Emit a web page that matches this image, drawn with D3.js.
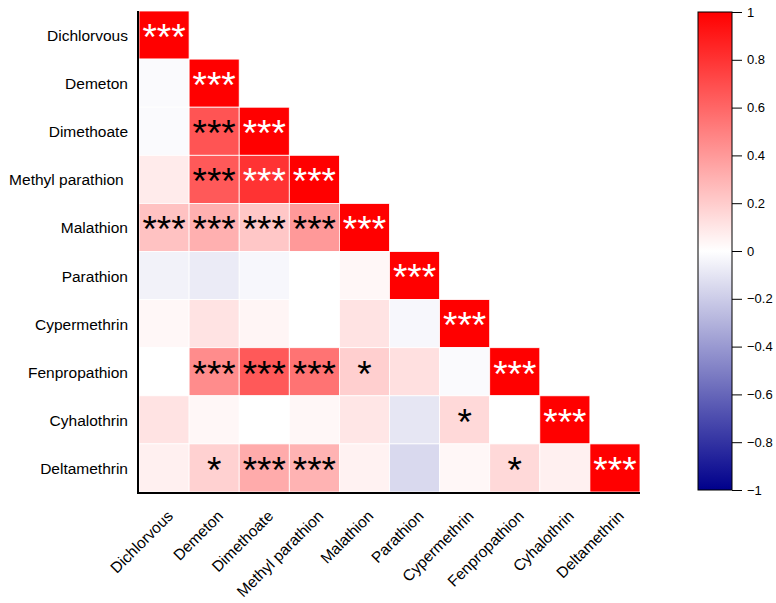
<!DOCTYPE html>
<html>
<head>
<meta charset="UTF-8">
<title>Pesticide correlation</title>
<style>
    body { margin: 0; padding: 0; background: #fff; font-family: 'Liberation Sans', Arial, sans-serif; }
    svg { display: block; }
</style>
</head>
<body>
<svg></svg>
<script src="https://d3js.org/d3.v7.min.js"></script>
<script>

// compounds (same order on both axes)
let compounds = ["Dichlorvous", "Demeton", "Dimethoate", "Methyl parathion", "Malathion",
    "Parathion", "Cypermethrin", "Fenpropathion", "Cyhalothrin", "Deltamethrin"];

// lower triangle of the correlation matrix, row by row
let corr = [
    [1],
    [-0.02, 1],
    [-0.02, 0.67, 1],
    [0.08, 0.65, 0.8, 1],
    [0.24, 0.31, 0.22, 0.4, 1],
    [-0.05, -0.08, -0.03, 0, 0.03, 1],
    [0.03, 0.11, 0.04, 0, 0.11, -0.03, 1],
    [0, 0.45, 0.65, 0.55, 0.19, 0.12, -0.02, 1],
    [0.11, 0.03, 0, 0.03, 0.1, -0.1, 0.15, 0, 1],
    [0.06, 0.18, 0.33, 0.3, 0.05, -0.15, 0.03, 0.15, 0.06, 1]
];

// significance marks, same shape as corr
let stars = [
    ["***"],
    ["", "***"],
    ["", "***", "***"],
    ["", "***", "***", "***"],
    ["***", "***", "***", "***", "***"],
    ["", "", "", "", "", "***"],
    ["", "", "", "", "", "", "***"],
    ["", "***", "***", "***", "*", "", "", "***"],
    ["", "", "", "", "", "", "*", "", "***"],
    ["", "*", "***", "***", "", "", "", "*", "", "***"]
];

let legendTicks = [1, 0.8, 0.6, 0.4, 0.2, 0, -0.2, -0.4, -0.6, -0.8, -1];

let w = 776, h = 603;
let svg = d3.select("svg").attr("width", w).attr("height", h);

// grid geometry
let gLeft = 139, gRight = 640, gTop = 11, gBottom = 492;

let x = d3.scaleBand().domain(compounds).range([gLeft, gRight]);
let y = d3.scaleBand().domain(compounds).range([gTop, gBottom]);

// diverging colour: navy - white - red
let color = d3.scaleLinear()
    .domain([-1, 0, 1])
    .range(["#00008b", "#ffffff", "#ff0000"])
    .interpolate(d3.interpolateRgb);

// flatten
let cells = [];
corr.forEach((row, i) => row.forEach((v, j) => {
    cells.push({ r: compounds[i], c: compounds[j], v: v, s: stars[i][j] });
}));

let g = svg.append("g");

g.selectAll("rect")
    .data(cells)
    .enter()
    .append("rect")
    .attr("x", d => x(d.c))
    .attr("y", d => y(d.r))
    .attr("width", x.bandwidth())
    .attr("height", y.bandwidth())
    .attr("fill", d => color(d.v))
    .attr("stroke", "#fff")
    .attr("stroke-width", 0.8);

let starSize = 37;
g.selectAll("text")
    .data(cells.filter(d => d.s))
    .enter()
    .append("text")
    .attr("x", d => x(d.c) + x.bandwidth() / 2)
    .attr("y", d => y(d.r) + y.bandwidth() / 2 + starSize * 0.4)
    .attr("text-anchor", "middle")
    .attr("font-size", starSize + "px")
    .attr("fill", d => d.v > 0.7 ? "#fff" : "#000")
    .text(d => d.s);

// axis lines
svg.append("line")
    .attr("x1", gLeft - 1).attr("x2", gLeft - 1)
    .attr("y1", gTop).attr("y2", gBottom + 1)
    .attr("stroke", "#000").attr("stroke-width", 2);
svg.append("line")
    .attr("x1", gLeft - 2).attr("x2", gRight)
    .attr("y1", gBottom + 1).attr("y2", gBottom + 1)
    .attr("stroke", "#000").attr("stroke-width", 2);

// y labels
svg.append("g")
    .selectAll("text")
    .data(compounds)
    .enter()
    .append("text")
    .attr("x", gLeft - 11)
    .attr("y", d => y(d) + y.bandwidth() / 2 + 6)
    .attr("text-anchor", "end")
    .attr("font-size", "15.5px")
    .attr("fill", "#000")
    .attr("xml:space", "preserve")
    .text(d => d === "Methyl parathion" ? d + " " : d);

// x labels, rotated
svg.append("g")
    .selectAll("text")
    .data(compounds)
    .enter()
    .append("text")
    .attr("transform", d => `translate(${x(d) + x.bandwidth() / 2 + 10}, ${gBottom + 25}) rotate(-45)`)
    .attr("text-anchor", "end")
    .attr("font-size", "15.5px")
    .attr("fill", "#000")
    .text(d => d);

// colour legend
let lx = 698, lw = 34, ly0 = 12, ly1 = 490;
let ls = d3.scaleLinear().domain([1, -1]).range([ly0, ly1]);

let grad = svg.append("defs").append("linearGradient")
    .attr("id", "cbar")
    .attr("x1", 0).attr("x2", 0).attr("y1", 0).attr("y2", 1);
d3.range(0, 1.0001, 0.05).forEach(t => {
    grad.append("stop")
        .attr("offset", t)
        .attr("stop-color", color(1 - 2 * t));
});

svg.append("rect")
    .attr("x", lx).attr("y", ly0)
    .attr("width", lw).attr("height", ly1 - ly0)
    .attr("fill", "url(#cbar)")
    .attr("stroke", "#000")
    .attr("stroke-width", 1);

let lg = svg.append("g")
    .attr("transform", `translate(${lx + lw}, 0)`)
    .call(d3.axisRight(ls).tickValues(legendTicks).tickSize(10).tickPadding(5).tickFormat(d3.format("")));
lg.select(".domain").remove();
lg.selectAll("line").attr("stroke", "#000");
lg.selectAll("text")
    .attr("font-family", "'Liberation Sans', Arial, sans-serif")
    .attr("font-size", "13px")
    .attr("fill", "#000");

</script>
</body>
</html>
